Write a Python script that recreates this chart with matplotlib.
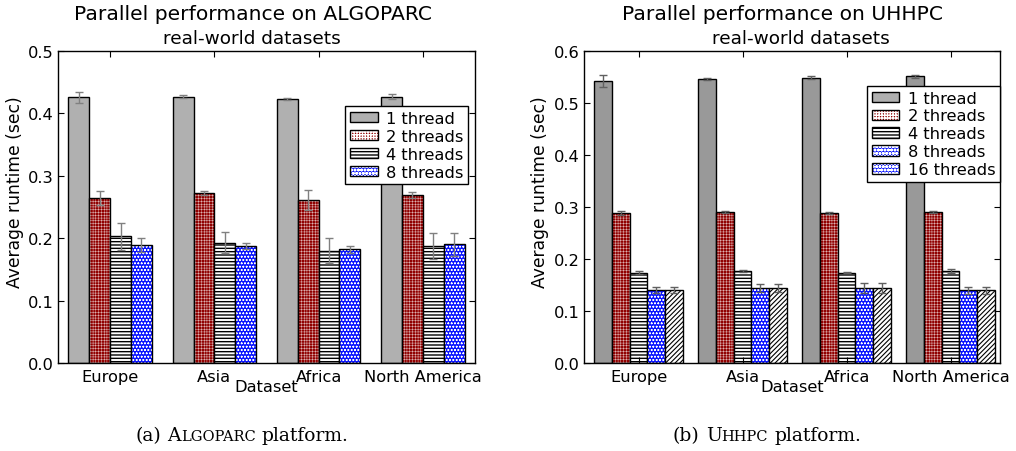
import matplotlib
matplotlib.use("Agg")
import matplotlib.pyplot as plt
import numpy as np
from matplotlib.patches import Patch
from matplotlib.legend_handler import HandlerTuple

# ---- data -------------------------------------------------------------
regions = ["Europe", "Asia", "Africa", "North America"]

algoparc_labels = ["1 thread", "2 threads", "4 threads", "8 threads"]
algoparc_means = [
    [0.426, 0.427, 0.423, 0.427],   # 1 thread
    [0.265, 0.272, 0.261, 0.269],   # 2 threads
    [0.203, 0.193, 0.180, 0.187],   # 4 threads
    [0.189, 0.187, 0.182, 0.190],   # 8 threads
]
algoparc_errs = [
    [0.009, 0.002, 0.002, 0.004],
    [0.011, 0.003, 0.016, 0.005],
    [0.022, 0.017, 0.020, 0.021],
    [0.011, 0.005, 0.006, 0.019],
]

uhhpc_labels = ["1 thread", "2 threads", "4 threads", "8 threads", "16 threads"]
uhhpc_means = [
    [0.542, 0.547, 0.549, 0.551],
    [0.288, 0.291, 0.288, 0.290],
    [0.174, 0.177, 0.174, 0.177],
    [0.141, 0.144, 0.144, 0.140],
    [0.141, 0.144, 0.144, 0.140],
]
uhhpc_errs = [
    [0.011, 0.002, 0.002, 0.003],
    [0.004, 0.002, 0.002, 0.002],
    [0.002, 0.002, 0.001, 0.003],
    [0.006, 0.008, 0.010, 0.007],
    [0.006, 0.008, 0.010, 0.007],
]

# ---- styles -----------------------------------------------------------
GRAY_LIGHT = "#b0b0b0"
GRAY_DARK = "#999999"
RED = "#900000"
BLUE = "#0a14ff"

# (facecolor, hatch, hatch colour, hatch linewidth)
style_1t_light = (GRAY_LIGHT, None, GRAY_LIGHT, 1.0)
style_1t_dark = (GRAY_DARK, None, GRAY_DARK, 1.0)
style_2t = (RED, "++++++", "white", 0.25)
style_4t = ("white", "-----", "black", 1.0)
style_8t = (BLUE, "ooooo", "white", 0.35)
style_16t = ("white", "///////", "black", 0.8)

plt.rcParams.update({
    "font.family": ["DejaVu Sans"],
    "font.size": 11.7,
    "xtick.direction": "in",
    "ytick.direction": "in",
    "xtick.top": True,
    "ytick.right": True,
    "xtick.major.size": 4,
    "ytick.major.size": 4,
    "axes.linewidth": 1.0,
})


def styled_bar(ax, pos, heights, width, style):
    face, hatch, hcolor, hlw = style
    with plt.rc_context({"hatch.linewidth": hlw}):
        bars = ax.bar(pos, heights, width, align="edge", color=face,
                      edgecolor=hcolor, hatch=hatch, linewidth=0)
    for b in bars:
        if hasattr(b, "set_hatch_linewidth"):
            b.set_hatch_linewidth(hlw)
    ax.bar(pos, heights, width, align="edge", fill=False,
           edgecolor="black", linewidth=1.0)


def legend_handle(style):
    face, hatch, hcolor, hlw = style
    with plt.rc_context({"hatch.linewidth": hlw}):
        fill = Patch(facecolor=face, edgecolor=hcolor, hatch=hatch, linewidth=0)
    if hasattr(fill, "set_hatch_linewidth"):
        fill.set_hatch_linewidth(hlw)
    edge = Patch(facecolor="none", edgecolor="black", linewidth=1.0)
    return (fill, edge)


def draw_panel(ax, means, errs, styles, width, ymax, ecolor):
    x = np.arange(len(regions))
    for k, (m, e, st) in enumerate(zip(means, errs, styles)):
        pos = x + k * width
        styled_bar(ax, pos, m, width, st)
        ax.errorbar(pos + width / 2, m, yerr=e, fmt="none", ecolor=ecolor,
                    capsize=3, elinewidth=1.0, capthick=1.0)
    ax.set_xticks(x + width * len(means) / 2)
    ax.set_xticklabels(regions)
    ax.set_xlim(-0.1, 3.9)
    ax.set_ylim(0, ymax)
    ax.set_yticks(np.arange(0, ymax + 0.001, 0.1))
    ax.tick_params(axis="y", pad=3)
    ax.tick_params(axis="x", pad=4)
    ax.set_xlabel("Dataset", fontsize=11.7, labelpad=-3)


fig = plt.figure(figsize=(10.16, 4.52), dpi=100)
ax1 = fig.add_axes([58 / 1016, 1 - 364 / 452, 417 / 1016, 312 / 452])
ax2 = fig.add_axes([584 / 1016, 1 - 364 / 452, 416 / 1016, 312 / 452])

# ---- panel (a) --------------------------------------------------------
styles_a = [style_1t_light, style_2t, style_4t, style_8t]
draw_panel(ax1, algoparc_means, algoparc_errs, styles_a, 0.2, 0.5, "#808080")
ax1.legend([legend_handle(s) for s in styles_a], algoparc_labels,
           handler_map={tuple: HandlerTuple(ndivide=1)},
           loc="upper right", bbox_to_anchor=(0.983, 0.824), borderaxespad=0,
           fontsize=11.7, handlelength=1.7, handleheight=0.6,
           labelspacing=0.18, borderpad=0.3, handletextpad=0.5,
           fancybox=False, framealpha=1, edgecolor="black")

# ---- panel (b) --------------------------------------------------------
styles_b = [style_1t_dark, style_2t, style_4t, style_8t, style_16t]
draw_panel(ax2, uhhpc_means, uhhpc_errs, styles_b, 0.17, 0.6, "#606060")
legend_b = [style_1t_light, style_2t, style_4t, style_8t, style_8t]
ax2.legend([legend_handle(s) for s in legend_b], uhhpc_labels,
           handler_map={tuple: HandlerTuple(ndivide=1)},
           loc="upper right", bbox_to_anchor=(1.0, 0.889), borderaxespad=0,
           fontsize=11.7, handlelength=1.7, handleheight=0.6,
           labelspacing=0.18, borderpad=0.3, handletextpad=0.5,
           fancybox=False, framealpha=1, edgecolor="black")

# ---- titles and labels ------------------------------------------------
fig.text(253.5 / 1016, 1 - 15 / 452, "Parallel performance on ALGOPARC",
         ha="center", va="center", fontsize=14.6)
fig.text(252 / 1016, 1 - 39 / 452, "real-world datasets",
         ha="center", va="center", fontsize=13.3)
fig.text(782 / 1016, 1 - 15 / 452, "Parallel performance on UHHPC",
         ha="center", va="center", fontsize=14.6)
fig.text(801 / 1016, 1 - 39 / 452, "real-world datasets",
         ha="center", va="center", fontsize=13.3)

fig.text(15 / 1016, 1 - 192 / 452, "Average runtime (sec)", rotation=90,
         ha="center", va="center", fontsize=12.3)
fig.text(540 / 1016, 1 - 192 / 452, "Average runtime (sec)", rotation=90,
         ha="center", va="center", fontsize=12.3)


# ---- captions with small caps ----------------------------------------
def caption(xc, y, parts, big=13.5, small=10.5):
    renderer = fig.canvas.get_renderer()
    fam = ["DejaVu Serif"]
    probe1 = fig.text(0, 0, "a a", fontsize=big, family=fam)
    probe2 = fig.text(0, 0, "aa", fontsize=big, family=fam)
    space = (probe1.get_window_extent(renderer).width
             - probe2.get_window_extent(renderer).width)
    probe1.remove()
    probe2.remove()
    texts, widths = [], []
    for s, is_small in parts:
        if s == " ":
            texts.append(None)
            widths.append(space)
            continue
        t = fig.text(0, y, s, fontsize=small if is_small else big,
                     family=fam, va="baseline", ha="left")
        texts.append(t)
        widths.append(t.get_window_extent(renderer).width)
    total = sum(widths)
    x = xc * fig.bbox.width - total / 2
    for t, w in zip(texts, widths):
        if t is not None:
            t.set_x(x / fig.bbox.width)
        x += w


caption(242 / 1016, 1 - 441 / 452,
        [("(a)", False), (" ", False), ("A", False), ("LGOPARC", True),
         (" ", False), ("platform.", False)])
caption(767 / 1016, 1 - 441 / 452,
        [("(b)", False), (" ", False), ("U", False), ("HHPC", True),
         (" ", False), ("platform.", False)])

fig.savefig("out.png", dpi=100)
